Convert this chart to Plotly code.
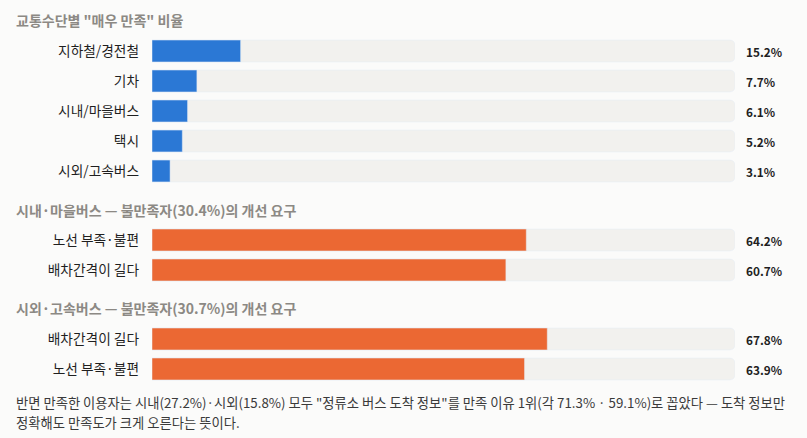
import plotly.graph_objects as go

# section 1: share of "very satisfied" by mode of transport
modes = ["지하철/경전철", "기차", "시내/마을버스", "택시", "시외/고속버스"]
mode_pct = [15.2, 7.7, 6.1, 5.2, 3.1]

# section 2: city/village bus, dissatisfied users' requests
city_reqs = ["노선 부족·불편", "배차간격이 길다"]
city_pct = [64.2, 60.7]

# section 3: intercity/express bus, dissatisfied users' requests
inter_reqs = ["배차간격이 길다", "노선 부족·불편"]
inter_pct = [67.8, 63.9]

titles = ['교통수단별 "매우 만족" 비율',
          "시내·마을버스 — 불만족자(30.4%)의 개선 요구",
          "시외·고속버스 — 불만족자(30.7%)의 개선 요구"]
footer_lines = ['반면 만족한 이용자는 시내(27.2%)·시외(15.8%) 모두 "정류소 버스 도착 정보"를 만족 이유 1위(각 71.3% · 59.1%)로 꼽았다 — 도착 정보만',
                '정확해도 만족도가 크게 오른다는 뜻이다.']

W, H = 807, 438
BG = "#fbfbfa"
TRACK = "#f2f1ee"
BLUE = "#2b78d5"
ORANGE = "#eb6833"
FONT = "Noto Sans CJK KR"

sections = [
    (modes, mode_pct, BLUE, (36, 186)),
    (city_reqs, city_pct, ORANGE, (225, 285)),
    (inter_reqs, inter_pct, ORANGE, (324, 384)),
]
title_y = [20, 210, 308]
footer_y = [402, 422]

fig = go.Figure()
layout = {}
annotations = []

for i, (cats, vals, color, (top, bot)) in enumerate(sections, start=1):
    sfx = "" if i == 1 else str(i)
    xa, ya = "x" + sfx, "y" + sfx
    fig.add_trace(go.Bar(x=[100] * len(cats), y=cats, orientation="h",
                         marker=dict(color=TRACK, cornerradius=5),
                         hoverinfo="skip", showlegend=False, xaxis=xa, yaxis=ya))
    fig.add_trace(go.Bar(x=vals, y=cats, orientation="h",
                         marker=dict(color=color, cornerradius=5),
                         showlegend=False, xaxis=xa, yaxis=ya))
    layout["xaxis" + sfx] = dict(domain=[152 / W, 735 / W], range=[0, 100],
                                 visible=False, fixedrange=True,
                                 anchor=ya)
    layout["yaxis" + sfx] = dict(domain=[1 - bot / H, 1 - top / H],
                                 categoryorder="array", categoryarray=cats,
                                 autorange="reversed", showgrid=False,
                                 zeroline=False, showline=False, ticks="",
                                 ticklabelstandoff=12, anchor=xa, fixedrange=True,
                                 tickfont=dict(size=13.7, color="#1f1f1f", family=FONT))
    for c, v in zip(cats, vals):
        annotations.append(dict(x=100, y=c, xref=xa, yref=ya, xanchor="left",
                                xshift=9, text=f"<b>{v}%</b>", showarrow=False,
                                font=dict(size=11.8, color="#1f1f1f", family=FONT)))

for t, py in zip(titles, title_y):
    annotations.append(dict(x=14 / W, y=1 - py / H, xref="paper", yref="paper",
                            xanchor="left", yanchor="middle", text=f"<b>{t}</b>",
                            showarrow=False,
                            font=dict(size=14, color="#8c8984", family=FONT)))

for t, py in zip(footer_lines, footer_y):
    annotations.append(dict(x=14 / W, y=1 - py / H, xref="paper", yref="paper",
                            xanchor="left", yanchor="middle", align="left",
                            text=t, showarrow=False,
                            font=dict(size=13.3, color="#3a3a3a", family=FONT)))

fig.update_layout(**layout)
fig.update_layout(width=W, height=H, margin=dict(l=0, r=0, t=0, b=0),
                  paper_bgcolor=BG, plot_bgcolor=BG, barmode="overlay",
                  bargap=0.27, annotations=annotations,
                  font=dict(family=FONT))

fig.write_html("out.html", config={"displayModeBar": False},
               post_script="document.body.style.margin='0';document.body.style.background='%s';" % BG)
